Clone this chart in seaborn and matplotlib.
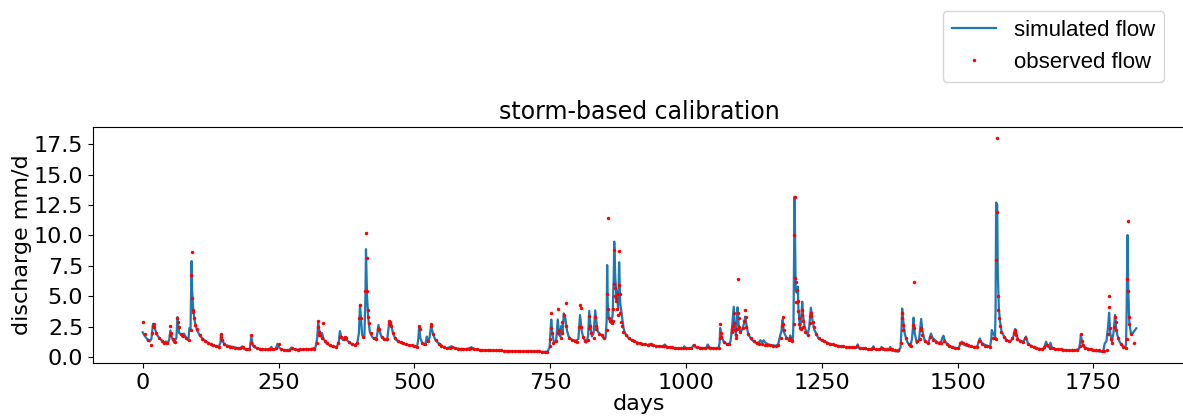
import numpy as np
import pandas as pd
import matplotlib
matplotlib.use("Agg")
import matplotlib.pyplot as plt
import seaborn as sns

# ---------------- data ----------------
# observed flow on a 5-day grid (days 0, 5, 10, ... 1825), mm/d
obs_grid_flow = [
    2.9, 1.9, 1.4, 1.0, 2.7, 2.0, 1.6, 1.3, 1.2, 1.15,          # 0-45
    1.8, 1.5, 1.25, 2.9, 1.9, 1.75, 1.55, 1.45, 8.6, 3.2,        # 50-95
    2.3, 1.8, 1.5, 1.3, 1.15, 1.05, 0.97, 0.9, 0.86, 1.7,        # 100-145
    1.1, 0.95, 0.88, 0.83, 0.8, 0.77, 0.75, 0.85, 0.72, 0.72,    # 150-195
    1.8, 0.9, 0.78, 0.72, 0.68, 0.66, 0.65, 0.64, 0.65, 0.8,     # 200-245
    1.1, 0.7, 0.62, 0.6, 0.6, 0.8, 0.65, 0.62, 0.64, 0.66,       # 250-295
    0.68, 0.68, 0.7, 0.72, 1.2, 1.8, 1.6, 1.3, 1.15, 1.0,        # 300-345
    0.9, 0.82, 1.2, 1.7, 1.5, 1.6, 1.25, 1.1, 1.0, 1.2,          # 350-395
    4.3, 1.7, 5.4, 3.3, 2.0, 1.6, 1.5, 2.3, 1.7, 1.5,            # 400-445
    1.5, 2.9, 2.0, 1.55, 1.35, 1.25, 1.15, 1.08, 1.02, 0.97,     # 450-495
    0.93, 0.88, 2.3, 1.15, 1.05, 1.3, 2.6, 1.9, 1.45, 1.1,       # 500-545
    0.95, 0.82, 0.75, 0.8, 0.88, 0.78, 0.72, 0.7, 0.68, 0.68,    # 550-595
    0.7, 0.78, 0.7, 0.64, 0.62, 0.61, 0.6, 0.59, 0.58, 0.58,     # 600-645
    0.57, 0.56, 0.56, 0.55, 0.55, 0.54, 0.53, 0.53, 0.52, 0.52,  # 650-695
    0.51, 0.5, 0.5, 0.49, 0.49, 0.48, 0.48, 0.47, 0.47, 0.46,    # 700-745
    1.5, 1.2, 1.3, 2.0, 1.6, 3.5, 2.6, 1.6, 1.4, 1.3,            # 750-795
    1.25, 4.3, 1.7, 1.3, 1.4, 2.0, 1.6, 2.3, 1.9, 1.8,           # 800-845
    1.6, 5.16, 3.0, 3.0, 5.0, 3.5, 2.9, 2.1, 1.8, 1.55,          # 850-895
    1.4, 1.3, 1.2, 1.15, 1.1, 1.05, 1.0, 1.05, 0.98, 0.95,       # 900-945
    0.92, 0.9, 0.92, 0.88, 0.85, 0.82, 0.8, 0.78, 0.76, 0.75,    # 950-995
    0.76, 0.75, 0.78, 0.98, 0.85, 0.8, 0.78, 0.77, 0.82, 0.78,   # 1000-1045
    0.76, 0.76, 0.78, 1.7, 1.25, 1.05, 1.1, 2.3, 2.2, 6.42,      # 1050-1095
    2.1, 2.4, 3.3, 1.9, 1.55, 1.33, 1.2, 1.12, 1.07, 1.03,       # 1100-1145
    1.0, 0.98, 0.96, 0.95, 0.98, 1.6, 2.2, 1.6, 1.45, 1.3,       # 1150-1195
    13.18, 5.5, 2.4, 3.0, 2.1, 1.8, 3.6, 2.5, 1.95, 1.55,        # 1200-1245
    1.4, 1.3, 1.2, 1.12, 1.05, 1.0, 0.95, 0.92, 0.9, 0.87,       # 1250-1295
    0.85, 0.83, 0.81, 0.9, 0.78, 0.76, 0.74, 0.72, 0.7, 0.78,    # 1300-1345
    0.7, 0.68, 0.75, 0.68, 0.66, 0.72, 0.64, 0.62, 0.62, 1.2,    # 1350-1395
    2.2, 1.55, 1.05, 0.95, 2.4, 1.3, 1.5, 1.8, 1.3, 1.15,        # 1400-1445
    1.7, 1.45, 1.25, 1.15, 1.2, 1.3, 1.05, 0.95, 0.85, 0.78,     # 1450-1495
    0.74, 1.2, 1.15, 1.05, 0.98, 0.92, 0.88, 0.85, 1.35, 1.05,   # 1500-1545
    0.95, 0.9, 0.85, 1.55, 1.5, 3.88, 2.1, 1.7, 1.42, 1.3,       # 1550-1595
    1.6, 2.1, 1.5, 1.35, 1.25, 1.6, 1.1, 0.95, 0.85, 0.78,       # 1600-1645
    0.72, 0.7, 0.82, 1.0, 0.8, 0.75, 0.7, 0.66, 0.64, 0.62,      # 1650-1695
    0.6, 0.6, 0.6, 0.58, 0.58, 0.9, 1.0, 0.8, 0.7, 0.65,         # 1700-1745
    0.6, 0.58, 0.56, 0.55, 0.55, 0.6, 2.38, 1.2, 3.33, 1.6,      # 1750-1795
    1.1, 0.85, 0.8, 3.33, 1.9, 1.15,                             # 1800-1825
]

# extra observed days around storm peaks
obs_peak_days = [18, 19, 21, 51, 52, 64, 66, 88, 89, 91, 92, 93, 97, 144, 146, 199,
                 322, 323, 324, 326, 331, 363, 372, 399, 401, 411, 412, 413, 414, 416,
                 434, 453, 454, 456, 457, 509, 531, 749, 751, 752, 753, 764, 766, 771,
                 772, 779, 804, 806, 807, 821, 822, 823, 833, 834, 854, 856, 857, 858,
                 863, 866, 867, 868, 869, 871, 872, 873, 874, 876, 877, 878, 879, 882,
                 1062, 1063, 1064, 1084, 1086, 1088, 1089, 1092, 1093, 1094, 1096, 1097,
                 1098, 1107, 1109, 1111, 1177, 1178, 1179, 1192, 1198, 1199, 1201, 1202,
                 1203, 1204, 1206, 1207, 1208, 1209, 1212, 1213, 1214, 1216, 1228, 1229,
                 1231, 1233, 1397, 1398, 1399, 1418, 1419, 1432, 1433, 1569, 1571, 1572,
                 1573, 1574, 1576, 1578, 1604, 1606, 1608, 1727, 1729, 1777, 1778, 1779,
                 1782, 1788, 1791, 1792, 1811, 1812, 1813, 1814, 1816]
obs_peak_flow = [2.0, 2.6, 2.5, 2.55, 2.0, 3.25, 2.5, 2.2, 6.75, 4.9, 3.85, 3.75, 2.65, 1.88, 1.4, 1.2,
                 2.5, 2.98, 2.1, 1.83, 2.8, 1.7, 1.64, 3.2, 3.2, 10.22, 8.17, 5.4, 3.9, 2.8,
                 2.3, 2.7, 2.98, 2.7, 2.6, 2.55, 2.7, 0.9, 2.38, 3.65, 2.0, 4.0, 2.2, 2.9,
                 2.0, 4.45, 2.5, 4.05, 2.5, 2.4, 3.4, 2.6, 3.3, 2.6, 2.2, 11.45, 4.0, 3.2,
                 2.8, 4.0, 6.0, 8.8, 5.7, 4.6, 4.9, 5.2, 4.0, 5.9, 8.7, 5.2, 3.6, 2.6,
                 1.6, 2.75, 2.0, 2.1, 2.6, 3.6, 2.8, 1.83, 1.55, 2.3, 3.6, 3.2,
                 2.5, 3.0, 3.85, 2.5, 2.6, 3.33, 2.7, 1.6, 2.7, 10.0, 6.5, 6.2,
                 4.55, 4.5, 4.6, 3.8, 3.2, 2.7, 2.3, 3.5, 3.88, 2.5, 2.8, 3.4,
                 3.4, 2.9, 3.2, 3.66, 2.65, 2.65, 6.15, 2.2, 2.4, 1.55, 7.98, 18.02,
                 11.94, 5.06, 3.2, 2.6, 2.0, 2.2, 1.8, 1.88, 1.3, 1.88, 4.1, 5.06,
                 1.5, 2.5, 2.9, 2.2, 1.5, 6.42, 11.18, 5.4, 2.7]

# simulated flow (days, mm/d)
sim_days = [0, 3, 8, 13, 16, 19, 22, 27, 32, 36, 40, 43, 46, 49, 51, 54, 58, 62, 64, 67, 70, 73, 76, 80,
            84, 86, 88, 89, 90, 91, 93, 96, 100, 105, 110, 115, 120, 127, 135, 140, 143, 144, 147,
            152, 160, 170, 180, 183, 186, 190, 194, 197, 200, 203, 207, 215, 225, 232, 237, 240,
            245, 248, 252, 258, 265, 270, 274, 278, 290, 300, 310, 318, 321, 323, 325, 328, 330,
            333, 338, 345, 352, 358, 361, 363, 366, 369, 372, 376, 382, 390, 395, 398, 400, 402,
            404, 408, 410, 411, 412, 413, 415, 418, 422, 425, 430, 432, 434, 437, 440, 445, 450,
            452, 454, 457, 460, 465, 472, 480, 490, 498, 505, 507, 509, 511, 515, 520, 523, 525,
            528, 531, 534, 538, 543, 547, 552, 560, 568, 575, 585, 597, 605, 612, 620, 640, 660,
            680, 700, 720, 745, 749, 752, 754, 757, 761, 764, 767, 769, 771, 773, 775, 778, 781,
            784, 790, 797, 802, 805, 808, 811, 817, 820, 822, 825, 827, 830, 833, 836, 838, 842,
            845, 848, 852, 854, 855, 856, 858, 861, 863, 865, 867, 868, 870, 872, 873, 875, 876,
            877, 879, 882, 885, 888, 895, 900, 906, 915, 930, 934, 938, 950, 958, 961, 965, 977,
            990, 995, 997, 1000, 1010, 1014, 1018, 1030, 1037, 1040, 1043, 1055, 1060, 1062,
            1063, 1066, 1070, 1078, 1082, 1085, 1088, 1090, 1092, 1093, 1095, 1097, 1100, 1104,
            1107, 1109, 1112, 1115, 1120, 1124, 1130, 1135, 1137, 1140, 1143, 1146, 1150, 1155,
            1167, 1170, 1173, 1176, 1178, 1180, 1183, 1186, 1190, 1192, 1195, 1197, 1198, 1199,
            1200, 1201, 1202, 1204, 1206, 1207, 1209, 1210, 1212, 1214, 1216, 1219, 1224, 1227,
            1230, 1233, 1236, 1240, 1244, 1250, 1256, 1265, 1274, 1285, 1293, 1305, 1314, 1316,
            1319, 1330, 1342, 1345, 1348, 1358, 1360, 1363, 1374, 1376, 1379, 1391, 1395, 1397,
            1398, 1400, 1403, 1407, 1413, 1416, 1418, 1419, 1421, 1425, 1429, 1431, 1433, 1435,
            1440, 1446, 1449, 1451, 1454, 1458, 1465, 1470, 1472, 1474, 1477, 1483, 1492, 1502,
            1505, 1508, 1513, 1520, 1529, 1536, 1539, 1541, 1544, 1551, 1560, 1562, 1563, 1566,
            1569, 1570, 1571, 1573, 1574, 1576, 1578, 1581, 1586, 1590, 1597, 1602, 1606, 1609,
            1612, 1621, 1624, 1626, 1629, 1633, 1640, 1652, 1658, 1661, 1663, 1666, 1669, 1671,
            1674, 1683, 1695, 1701, 1710, 1716, 1724, 1726, 1727, 1729, 1732, 1740, 1750, 1760,
            1768, 1771, 1774, 1777, 1779, 1781, 1784, 1787, 1790, 1792, 1794, 1798, 1802, 1808,
            1810, 1811, 1812, 1813, 1814, 1816, 1819, 1822, 1826, 1829]
sim_flow = [2.05, 1.8, 1.5, 1.3, 1.5, 2.75, 2.4, 1.8, 1.5, 1.35, 1.2, 1.3, 1.1, 1.5, 2.2, 1.6, 1.2, 1.6, 3.3, 2.0, 1.9, 1.7, 1.95, 1.6,
            1.4, 2.4, 2.3, 5.0, 7.9, 5.5, 3.9, 2.9, 2.2, 1.8, 1.55, 1.35, 1.2, 1.0, 0.9, 0.85, 1.2, 1.85, 1.3,
            1.0, 0.9, 0.8, 0.72, 0.9, 0.7, 0.6, 0.65, 0.7, 1.7, 0.95, 0.8, 0.7, 0.62, 0.58, 0.85, 0.6,
            0.65, 1.1, 0.75, 0.6, 0.58, 0.6, 0.8, 0.65, 0.62, 0.65, 0.68, 0.8, 1.5, 2.8, 2.2, 1.7, 2.0,
            1.5, 1.2, 0.95, 0.82, 0.9, 1.3, 2.15, 1.6, 1.4, 1.64, 1.4, 1.15, 1.0, 1.15, 2.0, 4.3, 3.0,
            1.8, 1.6, 5.0, 8.87, 7.0, 5.0, 3.3, 2.1, 1.7, 1.55, 1.5, 2.0, 2.65, 2.0, 1.65, 1.45, 1.4,
            2.2, 2.9, 2.8, 2.1, 1.5, 1.25, 1.1, 1.0, 0.92, 0.86, 1.4, 2.5, 1.6, 1.1, 1.0, 1.7, 1.25,
            1.6, 2.6, 2.0, 1.5, 1.2, 1.1, 0.9, 0.72, 0.9, 0.75, 0.68, 0.68, 0.82, 0.66, 0.58, 0.55, 0.52,
            0.5, 0.48, 0.46, 0.45, 0.8, 3.1, 2.0, 1.2, 1.3, 3.1, 1.8, 1.7, 2.6, 2.0, 3.6, 3.2, 2.2,
            1.7, 1.45, 1.35, 1.5, 3.47, 2.2, 1.6, 1.2, 1.8, 3.8, 2.2, 1.7, 2.0, 3.85, 2.6, 2.1, 1.9,
            1.83, 1.6, 1.6, 3.0, 7.57, 4.5, 3.2, 2.9, 2.8, 3.5, 6.5, 9.49, 6.5, 5.0, 5.4, 4.0, 5.5,
            7.8, 4.5, 3.47, 2.4, 1.95, 1.55, 1.4, 1.28, 1.15, 1.0, 1.1, 0.95, 0.9, 0.88, 1.05, 0.85, 0.75,
            0.7, 0.68, 0.9, 0.7, 0.72, 1.0, 0.82, 0.75, 0.72, 1.05, 0.78, 0.72, 0.75, 1.2,
            2.4, 1.6, 1.25, 1.0, 1.3, 2.5, 4.15, 2.5, 1.8, 2.3, 4.1, 2.7, 2.1, 2.3,
            2.8, 3.33, 2.5, 1.85, 1.5, 1.33, 1.15, 1.25, 1.4, 1.2, 1.4, 1.2, 1.1, 1.0,
            0.95, 1.1, 1.7, 2.2, 3.1, 2.1, 1.8, 1.55, 1.5, 1.8, 1.28, 1.5, 3.0, 8.0,
            13.18, 9.0, 5.5, 5.3, 5.8, 4.0, 3.0, 2.4, 3.0, 4.56, 3.3, 2.4, 1.83, 2.5,
            4.07, 3.0, 2.3, 1.9, 1.55, 1.38, 1.28, 1.1, 1.0, 0.9, 0.85, 0.8, 0.75, 1.06,
            0.72, 0.68, 0.65, 0.9, 0.65, 0.6, 0.85, 0.6, 0.58, 0.85, 0.55, 0.46, 0.8, 2.5,
            4.0, 3.0, 1.9, 1.3, 0.87, 1.5, 2.5, 3.25, 2.0, 1.15, 1.4, 2.3, 3.15, 2.2,
            1.28, 1.15, 1.6, 1.95, 1.6, 1.42, 1.15, 1.3, 1.6, 1.77, 1.3, 1.0, 0.8, 0.73,
            1.1, 1.28, 1.0, 0.9, 0.85, 0.85, 1.3, 1.55, 1.2, 1.0, 0.87, 1.5, 2.24, 1.9,
            1.7, 4.0, 12.7, 12.5, 7.0, 4.0, 3.0, 2.1, 1.7, 1.42, 1.28, 1.6, 2.32, 1.8,
            1.42, 1.28, 1.5, 1.7, 1.2, 1.0, 0.85, 0.68, 0.65, 1.0, 1.28, 0.9, 0.8, 1.2,
            0.75, 0.65, 0.6, 0.55, 0.55, 0.55, 0.7, 1.4, 1.85, 1.2, 0.87, 0.7, 0.55, 0.48,
            0.45, 1.15, 1.3, 2.5, 3.66, 2.0, 1.28, 2.0, 3.47, 2.4, 1.83, 1.3, 1.0, 0.8,
            1.0, 3.0, 7.0, 10.03, 6.0, 3.0, 1.95, 1.95, 2.2, 2.38]

x_ticks = [0, 250, 500, 750, 1000, 1250, 1500, 1750]
y_ticks = [0.0, 2.5, 5.0, 7.5, 10.0, 12.5, 15.0, 17.5]

# ---------------- assemble observed series ----------------
obs_series = dict(zip(range(0, 5 * len(obs_grid_flow), 5), obs_grid_flow))
obs_series.update(dict(zip(obs_peak_days, obs_peak_flow)))
obs_df = pd.DataFrame(sorted(obs_series.items()), columns=["day", "flow"])
sim_df = pd.DataFrame({"day": sim_days, "flow": sim_flow})

# ---------------- figure ----------------
W, H = 1183, 419
fig = plt.figure(figsize=(W / 100, H / 100), dpi=100)
ax = fig.add_axes([93 / W, 1 - 363 / H, (1186 - 93) / W, (363 - 127) / H])

sns.lineplot(data=sim_df, x="day", y="flow", ax=ax, color="#1f77b4", linewidth=1.6,
             estimator=None, sort=True, label="simulated flow")
sns.lineplot(data=obs_df, x="day", y="flow", ax=ax, color="red", linestyle="",
             marker=".", markersize=5, markeredgewidth=0, estimator=None,
             label="observed flow")

ax.set_xlim(-91.5, 1920.5)
ax.set_ylim(-0.47, 18.9)
ax.set_xticks(x_ticks)
ax.set_yticks(y_ticks)
ax.tick_params(labelsize=16)
ax.set_xlabel("days", fontsize=16, labelpad=1)
ax.set_ylabel("discharge mm/d", fontsize=16, labelpad=1)
ax.set_title("storm-based calibration", fontsize=17)

handles, labels = ax.get_legend_handles_labels()
ax.get_legend().remove()
fig.legend(handles, labels, loc="upper right", bbox_to_anchor=(1164 / W, 1 - 11 / H),
           prop={"family": "Liberation Sans", "size": 16}, borderaxespad=0)

fig.savefig("out.png", dpi=100)
